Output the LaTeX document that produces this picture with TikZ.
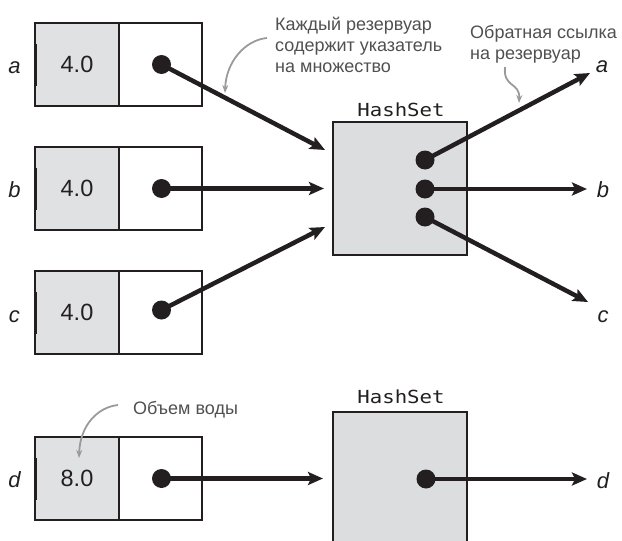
\documentclass[tikz,border=0pt]{standalone}
\usepackage{fontspec}
\setmainfont{Liberation Sans}
\newfontfamily\hsfont{DejaVu Sans Mono}
\usetikzlibrary{arrows.meta}
\definecolor{cellgray}{HTML}{E0E1E3}
\definecolor{setgray}{HTML}{DCDDDF}
\definecolor{ink}{HTML}{231F20}
\definecolor{notegray}{HTML}{505050}
\definecolor{curvegray}{HTML}{9A9A9A}
\begin{document}
\begin{tikzpicture}[x=1pt,y=-1pt,
  valcell/.style={draw=ink, line width=2.2pt, fill=cellgray, minimum width=84pt, minimum height=83pt, inner sep=0pt, font=\fontsize{23.5}{27}\selectfont, text=ink},
  ptrcell/.style={draw=ink, line width=2.2pt, fill=white, minimum width=83pt, minimum height=83pt, inner sep=0pt},
  setbox/.style={draw=ink, line width=2.2pt, fill=setgray, minimum width=134pt, minimum height=133pt, inner sep=0pt},
  ptrdot/.style={circle, fill=ink, minimum size=19pt, inner sep=0pt},
  ptr/.style={line width=4.5pt, draw=ink, -{Stealth[length=15pt,width=13pt,inset=3pt]}},
  varlabel/.style={font=\fontsize{22}{25}\selectfont\itshape, text=ink, inner sep=0pt, anchor=base},
  setlabel/.style={font=\hsfont\fontsize{18}{20}\selectfont, inner sep=0pt, anchor=base, text=ink},
  notetext/.style={font=\fontsize{18}{21}\selectfont, text=notegray, align=left, inner sep=0pt, anchor=base west},
  noteline/.style={draw=curvegray, line width=1.8pt, -{Stealth[length=8pt,width=6pt]}},
  stub/.style={draw=ink, line width=3.6pt}
]
\path[use as bounding box] (0,0) rectangle (622,541);
\clip (0,0) rectangle (622,541);

% ---- tank a
\node[valcell] (va) at (77,64.5) {4.0};
\node[ptrcell] (ca) at (160.5,64.5) {};
\draw[stub] (35.3,43.5) -- (35.3,85.5);
\node[varlabel] (la) at (14.5,73) {a};
% ---- tank b
\node[valcell] (vb) at (77,188.5) {4.0};
\node[ptrcell] (cb) at (160.5,188.5) {};
\draw[stub] (35.3,167.5) -- (35.3,209.5);
\node[varlabel] (lb) at (14.5,197) {b};
% ---- tank c
\node[valcell] (vc) at (77,312.5) {4.0};
\node[ptrcell] (cc) at (160.5,312.5) {};
\draw[stub] (35.3,291.5) -- (35.3,333.5);
\node[varlabel] (lc) at (14.5,322) {c};
% ---- tank d
\node[valcell] (vd) at (77,478.5) {8.0};
\node[ptrcell] (cd) at (160.5,478.5) {};
\draw[stub] (35.3,457.5) -- (35.3,499.5);
\node[varlabel] (ld) at (14.5,487) {d};

% ---- HashSets
\node[setbox] (hs1) at (400,188.5) {};
\node[setlabel] (hl1) at (401,116) {\scalebox{1.15}[1]{HashSet}};
\node[setbox, minimum height=160pt] (hs2) at (400,492) {};
\node[setlabel] (hl2) at (401,403) {\scalebox{1.15}[1]{HashSet}};

% ---- arrow end points
\coordinate (ina) at (325,150);
\coordinate (inb) at (324,188.5);
\coordinate (inc) at (325,227);
\coordinate (ind) at (323,478.5);
\coordinate (outa) at (590,73);
\coordinate (outb) at (587,189);
\coordinate (outc) at (588,302);
\coordinate (outd) at (587,479);

% ---- pointer dots
\node[ptrdot] (pa) at (161.5,64.5) {};
\node[ptrdot] (pb) at (161.5,188.5) {};
\node[ptrdot] (pc) at (161.5,310) {};
\node[ptrdot] (pd) at (161.5,478.5) {};
\node[ptrdot] (sa) at (425,160) {};
\node[ptrdot] (sb) at (425,189) {};
\node[ptrdot] (sc) at (425,217) {};
\node[ptrdot] (sd) at (426,479) {};

% ---- pointers
\draw[ptr] (pa.center) -- (ina);
\draw[ptr] (pb.center) -- (inb);
\draw[ptr] (pc.center) -- (inc);
\draw[ptr] (pd.center) -- (ind);
\draw[ptr] (sa.center) -- (outa);
\draw[ptr] (sb.center) -- (outb);
\draw[ptr] (sc.center) -- (outc);
\draw[ptr] (sd.center) -- (outd);

% ---- back-reference labels
\node[varlabel] (ra) at (602,72) {a};
\node[varlabel] (rb) at (603,197) {b};
\node[varlabel] (rc) at (603,322) {c};
\node[varlabel] (rd) at (603,488) {d};

% ---- notes (anchor is the baseline of the last line)
\node[notetext] (n1) at (275,72) {Каждый резервуар\\содержит указатель\\на множество};
\node[notetext] (n2) at (470,59) {Обратная ссылка\\на резервуар};
\node[notetext] (n3) at (133,414) {Объем воды};
\coordinate (c1s) at (267,38);
\coordinate (c1e) at (225,93);
\draw[noteline] (c1s) .. controls (245,40) and (226,62) .. (c1e);
\coordinate (c2s) at (505,67);
\coordinate (c2e) at (519,103);
\draw[noteline] (c2s) .. controls (503,88) and (520,82) .. (c2e);
\coordinate (c3s) at (118,405);
\coordinate (c3e) at (79,458);
\draw[noteline] (c3s) .. controls (98,407) and (80,425) .. (c3e);
\end{tikzpicture}
\end{document}
